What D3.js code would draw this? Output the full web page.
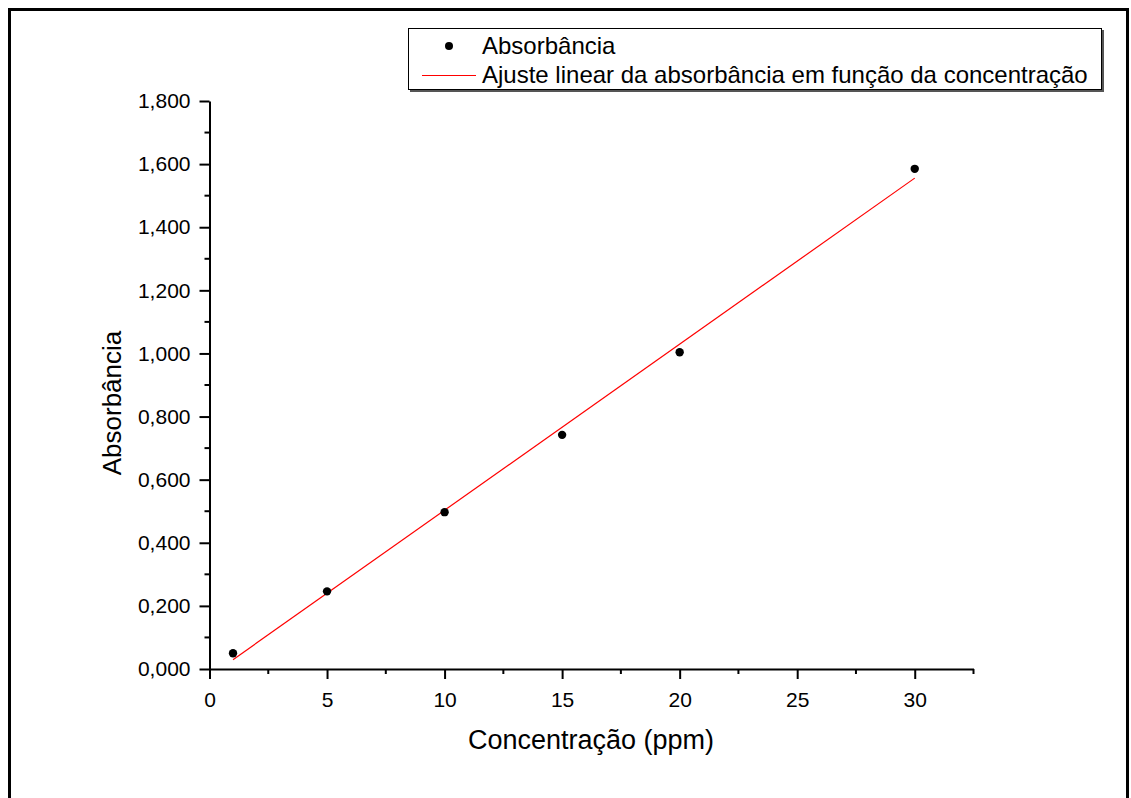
<!DOCTYPE html>
<html lang="pt">
<head>
<meta charset="utf-8">
<script src="https://cdn.jsdelivr.net/npm/d3@7"></script>
<style>
  body { margin: 0; background: #fff; }
  svg text { font-family: "Liberation Sans", Arial, sans-serif; fill: #000; }
</style>
</head>
<body>
<script>
  // dados
  var concentracao = [1, 5, 10, 15, 20, 30];
  var absorbancia = [0.050, 0.246, 0.497, 0.742, 1.004, 1.585];
  var xTicks = [0, 5, 10, 15, 20, 25, 30];
  var yTicks = [0, 0.2, 0.4, 0.6, 0.8, 1.0, 1.2, 1.4, 1.6, 1.8];
  var legendLabels = ["Absorbância", "Ajuste linear da absorbância em função da concentração"];

  var width = 1131, height = 798;
  var x0 = 209.5, x1 = 973.5, y0 = 669, y1 = 101;

  var svg = d3.select("body").append("svg")
    .attr("width", width)
    .attr("height", height);

  // moldura
  svg.append("rect")
    .attr("x", 9.5).attr("y", 9.5)
    .attr("width", 1118).attr("height", 800)
    .attr("fill", "none").attr("stroke", "#000").attr("stroke-width", 3);

  var x = d3.scaleLinear().domain([0, 32.5]).range([x0, x1]);
  var y = d3.scaleLinear().domain([0, 1.8]).range([y0, y1]);

  // regressao linear (minimos quadrados)
  var mx = d3.mean(concentracao), my = d3.mean(absorbancia);
  var sxy = d3.sum(concentracao, function(d, i){ return (d - mx) * (absorbancia[i] - my); });
  var sxx = d3.sum(concentracao, function(d){ return (d - mx) * (d - mx); });
  var slope = sxy / sxx, intercept = my - slope * mx;

  var fmt = function(d){ return d3.format(".3f")(d).replace(".", ","); };

  function estilo(g){
    g.select(".domain").attr("stroke-width", 2);
    g.selectAll(".tick line").attr("stroke-width", 2);
    g.selectAll(".tick text").style("font-size", "21px");
  }

  // eixo x
  var xMinor = d3.range(2.5, 33, 5);
  var gx = svg.append("g").attr("transform", "translate(0," + y0 + ")");
  gx.call(d3.axisBottom(x).tickValues(xTicks).tickSize(10).tickSizeOuter(0).tickPadding(13))
    .call(estilo);
  gx.selectAll(".minor").data(xMinor).enter().append("line")
    .attr("x1", x).attr("x2", x).attr("y1", 0).attr("y2", 5)
    .attr("stroke", "#000").attr("stroke-width", 2);

  // eixo y
  var yMinor = d3.range(0.1, 1.8, 0.2);
  var gy = svg.append("g").attr("transform", "translate(" + x0 + ",0)");
  gy.call(d3.axisLeft(y).tickValues(yTicks).tickFormat(fmt).tickSize(10).tickSizeOuter(0).tickPadding(9))
    .call(estilo);
  gy.selectAll(".minor").data(yMinor).enter().append("line")
    .attr("y1", y).attr("y2", y).attr("x1", 0).attr("x2", -5)
    .attr("stroke", "#000").attr("stroke-width", 2);

  // titulos
  svg.append("text")
    .attr("x", 591).attr("y", 749)
    .attr("text-anchor", "middle").style("font-size", "27px")
    .text("Concentração (ppm)");
  svg.append("text")
    .attr("transform", "translate(121,403) rotate(-90)")
    .attr("text-anchor", "middle").style("font-size", "26px")
    .text("Absorbância");

  // ajuste
  var xFit = d3.extent(concentracao);
  svg.append("line")
    .attr("x1", x(xFit[0])).attr("y1", y(slope * xFit[0] + intercept))
    .attr("x2", x(xFit[1])).attr("y2", y(slope * xFit[1] + intercept))
    .attr("stroke", "red").attr("stroke-width", 1.2);

  // pontos
  svg.selectAll("circle.pt")
    .data(concentracao).enter().append("circle")
    .attr("class", "pt")
    .attr("cx", function(d){ return x(d); })
    .attr("cy", function(d, i){ return y(absorbancia[i]); })
    .attr("r", 4.2)
    .attr("fill", "#000");

  // legenda
  var lg = svg.append("g");
  lg.append("rect")
    .attr("x", 410).attr("y", 30).attr("width", 694).attr("height", 62)
    .attr("fill", "#555");
  lg.append("rect")
    .attr("x", 408.5).attr("y", 28.5).attr("width", 693).attr("height", 61)
    .attr("fill", "#fff").attr("stroke", "#000").attr("stroke-width", 1);
  lg.append("circle").attr("cx", 449).attr("cy", 46).attr("r", 4).attr("fill", "#000");
  lg.append("line").attr("x1", 422).attr("x2", 476).attr("y1", 75.5).attr("y2", 75.5)
    .attr("stroke", "red").attr("stroke-width", 1.2);
  lg.selectAll("text.lab").data(legendLabels).enter().append("text")
    .attr("class", "lab")
    .attr("x", 482)
    .attr("y", function(d, i){ return 54 + i * 29; })
    .style("font-size", "24px")
    .text(function(d){ return d; });
</script>
</body>
</html>
